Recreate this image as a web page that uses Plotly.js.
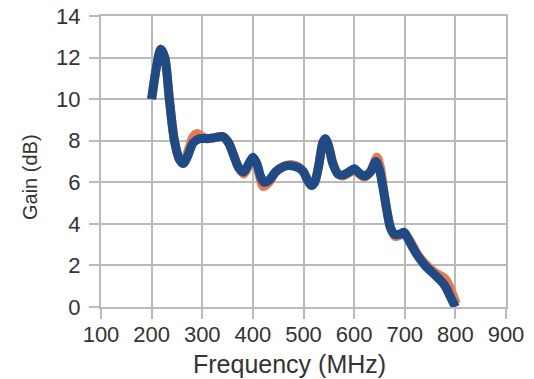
<!DOCTYPE html>
<html>
<head>
<meta charset="utf-8">
<script src="https://cdn.plot.ly/plotly-3.0.1.min.js"></script>
<style>html,body{margin:0;padding:0;background:#fff;}#chart{width:534px;height:379px;}</style>
</head>
<body>
<div id="chart"></div>
<script>
var freqBlue = [200,210,218,226,235,245,255,263,272,282,295,310,325,340,352,362,372,382,392,400,408,415,422,432,445,460,475,490,500,508,515,522,530,538,543,550,558,568,578,590,600,610,620,632,643,650,658,665,672,680,690,698,705,715,726,740,757,770,780,790,800];
var gainBlue = [10.0,11.6,12.4,12.0,10.0,8.0,7.1,6.9,7.3,7.9,8.1,8.1,8.15,8.2,7.9,7.3,6.7,6.5,6.9,7.2,6.9,6.3,6.0,6.1,6.5,6.75,6.8,6.7,6.5,6.1,5.85,6.0,6.8,7.9,8.1,7.7,6.9,6.4,6.35,6.5,6.65,6.45,6.3,6.5,7.0,6.6,5.6,4.6,3.8,3.5,3.5,3.6,3.35,2.9,2.45,2.0,1.6,1.3,1.0,0.5,0.0];
var freqOrange = [200,210,218,226,235,245,255,263,272,282,290,300,312,325,340,352,362,372,382,392,400,408,415,420,432,445,460,475,490,500,508,515,522,530,538,543,550,558,568,578,590,600,610,620,632,645,652,658,665,672,680,690,698,705,715,726,740,760,780,790,802];
var gainOrange = [10.0,11.6,12.4,12.0,10.0,8.0,7.1,7.0,7.5,8.2,8.35,8.2,8.1,8.15,8.2,7.9,7.3,6.7,6.4,6.8,7.1,6.8,6.1,5.8,6.0,6.5,6.75,6.85,6.75,6.5,6.1,5.85,6.0,6.8,7.9,8.1,7.7,6.9,6.4,6.3,6.45,6.6,6.4,6.25,6.5,7.2,6.7,5.7,4.6,3.8,3.4,3.45,3.6,3.4,3.0,2.5,2.1,1.65,1.35,0.9,0.15];
var xTicks = [100,200,300,400,500,600,700,800,900];
var yTicks = [0,2,4,6,8,10,12,14];

var font = "Liberation Sans, Arial, sans-serif";
var traces = [
  {x: freqOrange, y: gainOrange, mode: 'lines', line: {color: '#e8784f', width: 9, shape: 'spline', smoothing: 0.8}, hoverinfo: 'skip'},
  {x: freqBlue, y: gainBlue, mode: 'lines', line: {color: '#1e4b85', width: 9, shape: 'spline', smoothing: 0.8}, hoverinfo: 'skip'}
];
var layout = {
  width: 534, height: 379,
  margin: {l: 101, r: 28, t: 16, b: 72},
  paper_bgcolor: '#ffffff', plot_bgcolor: '#ffffff',
  showlegend: false,
  font: {family: font, color: '#333333', size: 22},
  xaxis: {
    range: [100, 900], tickvals: xTicks, ticktext: xTicks.map(String),
    showgrid: true, gridcolor: '#bababa', gridwidth: 2,
    showline: true, linecolor: '#bababa', linewidth: 2, mirror: true,
    ticks: 'outside', ticklen: 10, tickwidth: 2, tickcolor: '#bababa',
    ticklabelstandoff: -3,
    zeroline: false,
    tickfont: {family: font, size: 22, color: '#333333'}
  },
  yaxis: {
    range: [0, 14], tickvals: yTicks, ticktext: yTicks.map(String),
    showgrid: true, gridcolor: '#bababa', gridwidth: 2,
    showline: true, linecolor: '#bababa', linewidth: 2, mirror: true,
    ticks: 'outside', ticklen: 10, tickwidth: 2, tickcolor: '#bababa',
    ticklabelstandoff: 4,
    zeroline: false,
    tickfont: {family: font, size: 22, color: '#333333'}
  },
  annotations: [
    {text: 'Frequency (MHz)', xref: 'paper', yref: 'paper', x: 0.465, y: -0.195, xanchor: 'center', yanchor: 'middle', showarrow: false, font: {family: font, size: 25, color: '#333333'}},
    {text: 'Gain (dB)', xref: 'paper', yref: 'paper', x: -0.175, y: 0.447, xanchor: 'center', yanchor: 'middle', textangle: -90, showarrow: false, font: {family: font, size: 20, color: '#333333'}}
  ]
};
Plotly.newPlot('chart', traces, layout, {displayModeBar: false, staticPlot: true});
</script>
</body>
</html>
